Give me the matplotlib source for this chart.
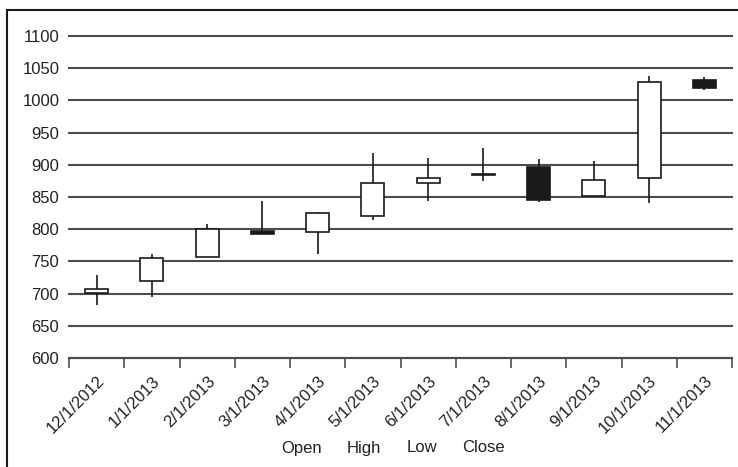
import matplotlib.pyplot as plt
from matplotlib.lines import Line2D
from matplotlib.patches import Rectangle

plt.rcParams['font.family'] = ['Liberation Sans', 'DejaVu Sans']

# monthly prices
dates = ['12/1/2012', '1/1/2013', '2/1/2013', '3/1/2013', '4/1/2013', '5/1/2013',
         '6/1/2013', '7/1/2013', '8/1/2013', '9/1/2013', '10/1/2013', '11/1/2013']
open_ = [701, 719, 757, 797, 796, 821, 872, 886, 896, 852, 879, 1032]
high = [729, 761, 808, 844, 827, 919, 911, 926, 909, 906, 1038, 1036]
low = [682, 694, 757, 792, 761, 814, 844, 875, 843, 852, 840, 1016]
close = [707, 755, 801, 792, 825, 871, 880, 884, 846, 876, 1028, 1019]

yticks = list(range(600, 1101, 50))
legend_labels = ['Open', 'High', 'Low', 'Close']

fig = plt.figure(figsize=(7.38, 4.67), dpi=100)
ax = fig.add_axes([69 / 738, 1 - 358 / 467, 663 / 738, 322 / 467])

x = list(range(len(dates)))
ax.vlines(x, low, high, color='#1a1a1a', linewidth=1.2, zorder=3)
bottoms = [min(o, c) for o, c in zip(open_, close)]
heights = [max(abs(c - o), 1.5) for o, c in zip(open_, close)]
fills = ['white' if c >= o else '#1a1a1a' for o, c in zip(open_, close)]
ax.bar(x, heights, bottom=bottoms, width=0.42, color=fills,
       edgecolor='#1a1a1a', linewidth=1.2, zorder=4)

ax.set_xlim(-0.5, len(dates) - 0.5)
ax.set_ylim(600, 1100)
ax.set_yticks(yticks)
ax.yaxis.grid(True, color='#4d4d4d', linewidth=1.5)
for gl in ax.get_ygridlines():
    gl.set_clip_on(False)
ax.set_axisbelow(True)
for s in ['left', 'right', 'top']:
    ax.spines[s].set_visible(False)
ax.spines['bottom'].set_color('#4d4d4d')
ax.spines['bottom'].set_linewidth(1.5)

ax.set_xticks([i - 0.5 for i in range(len(dates) + 1)])
ax.set_xticklabels([])
ax.set_xticks(x, minor=True)
ax.set_xticklabels(dates, minor=True, rotation=45, ha='right', va='top',
                   rotation_mode='anchor', fontsize=12, color='#222222')
ax.tick_params(axis='x', which='major', length=7, width=1.2, color='#4d4d4d')
ax.tick_params(axis='x', which='minor', length=0, pad=11)
ax.tick_params(axis='y', length=0, pad=7, labelsize=12, labelcolor='#222222')

handles = [Line2D([], [], linestyle='none') for _ in legend_labels]
ax.legend(handles, legend_labels, ncol=4, frameon=False, handlelength=0,
          handletextpad=0, columnspacing=1.5, fontsize=12, labelcolor='#222222',
          loc='center', bbox_to_anchor=(393 / 738, 1 - 448 / 467), bbox_transform=fig.transFigure)

# outer frame
fig.patches.append(Rectangle((7 / 738, -0.1), 1.2, 1 - 10 / 467 + 0.1, transform=fig.transFigure,
                             fill=False, edgecolor='#1a1a1a', linewidth=1.5))

fig.savefig('out.png', dpi=100)
